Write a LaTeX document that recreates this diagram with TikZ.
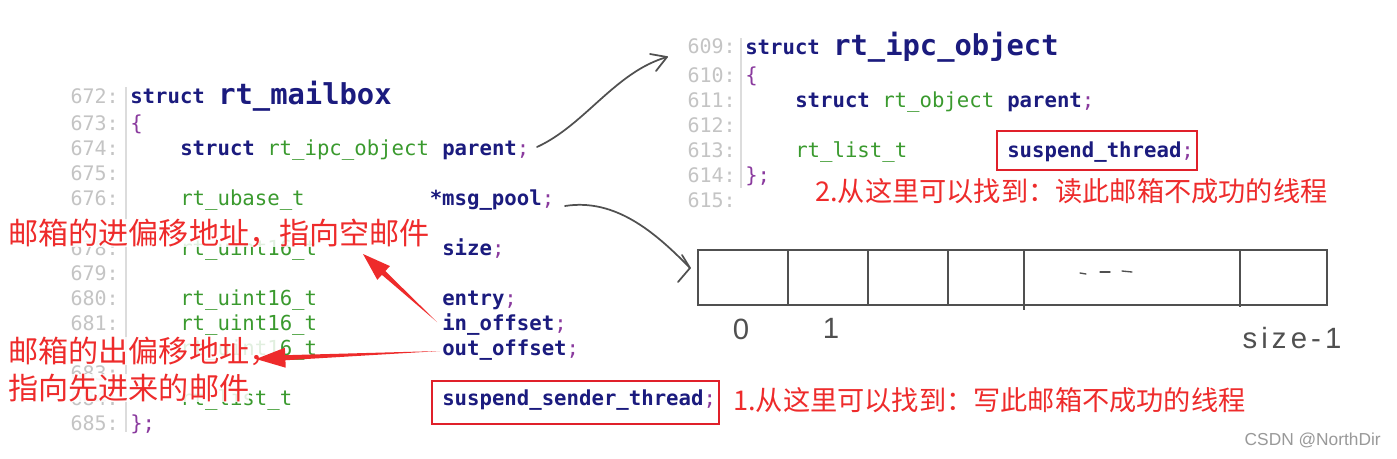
\documentclass[tikz,border=0pt]{standalone}
\usepackage{fontspec}
\setmainfont{Liberation Sans}
\newfontfamily\codefont{DejaVu Sans Mono}
\newfontfamily\cjkfont{Noto Sans CJK SC}
\newfontfamily\handfont[LetterSpace=14]{Liberation Sans}
\usetikzlibrary{calc}
\definecolor{navy}{HTML}{1B1B7E}
\definecolor{typegreen}{HTML}{3A9A2E}
\definecolor{punct}{HTML}{8A3A9E}
\definecolor{lnumgray}{HTML}{C4C4C4}
\definecolor{gutter}{HTML}{DCDCDC}
\definecolor{annred}{HTML}{EE2B2B}
\definecolor{boxred}{HTML}{E0202A}
\definecolor{pen}{HTML}{505050}
\begin{document}
\begin{tikzpicture}[x=0.75pt,y=-0.75pt,
  lnum/.style={font=\codefont\fontsize{15}{18}\selectfont, text=lnumgray, inner sep=0, anchor=base east},
  kw/.style={font=\codefont\bfseries\fontsize{15.5}{18}\selectfont, text=navy, inner sep=0, anchor=base west},
  ty/.style={font=\codefont\fontsize{15.5}{18}\selectfont, text=typegreen, inner sep=0, anchor=base west},
  pu/.style={font=\codefont\fontsize{15.5}{18}\selectfont, text=punct, inner sep=0, anchor=base west},
  title/.style={font=\codefont\bfseries\fontsize{21.6}{24}\selectfont, text=navy, inner sep=0, anchor=base west},
  redbox/.style={draw=boxred, line width=1.5pt},
  ann/.style={font=\cjkfont, text=annred, inner sep=0, anchor=west},
  annbg/.style={ann, fill=white, fill opacity=0.85, text opacity=1},
  redarrow/.style={fill=annred, draw=none},
  penline/.style={draw=pen, line width=1.3pt, line cap=round, line join=round},
  hand/.style={font=\handfont\fontsize{22}{24}\selectfont, text=pen, inner sep=0}]
\useasboundingbox (0,0) rectangle (1397,458);
\fill[white] (0,0) rectangle (1397,458);

% gutters
\draw[gutter, line width=0.8pt] (126,87) -- (126,432);
\draw[gutter, line width=0.8pt] (741,38) -- (741,188);

% left line numbers (677 and 682 are hidden under the annotations)
\foreach \n/\y in {672/103,673/130,674/155,675/180,676/205,678/255,679/280,680/305,681/330,683/380,684/405,685/430}
  \node[lnum] (n\n) at (119,\y) {\n:};
% right line numbers
\foreach \n/\y in {609/53,610/82,611/107,612/132,613/157,614/182,615/207}
  \node[lnum] (n\n) at (736,\y) {\n:};

% left struct
\node[kw] (k672) at (130,103) {struct};
\node[title] (t672) at (218,104) {rt\_mailbox};
\node[pu] (b673) at (130,130) {\{};
\node[kw] (k674) at (180,155) {struct};
\node[ty] (t674) at (267,155) {rt\_ipc\_object};
\node[kw] (f674) at (442,155) {parent\textcolor{punct}{\mdseries;}};
\node[ty] (t676) at (180,205) {rt\_ubase\_t};
\node[kw] (f676) at (429.5,205) {*msg\_pool\textcolor{punct}{\mdseries;}};
\node[ty] (t678) at (180,255) {rt\_uint16\_t};
\node[kw] (f678) at (442,255) {size\textcolor{punct}{\mdseries;}};
\node[ty] (t680) at (180,305) {rt\_uint16\_t};
\node[kw] (f680) at (442,305) {entry\textcolor{punct}{\mdseries;}};
\node[ty] (t681) at (180,330) {rt\_uint16\_t};
\node[kw] (f681) at (442,330) {in\_offset\textcolor{punct}{\mdseries;}};
\node[ty] (t682) at (180,355) {rt\_uint16\_t};
\node[kw] (f682) at (442,355) {out\_offset\textcolor{punct}{\mdseries;}};
\node[ty] (t684) at (180,405) {rt\_list\_t};
\node[kw] (f684) at (442,405) {suspend\_sender\_thread\textcolor{punct}{\mdseries;}};
\node[pu] (b685) at (130,430) {\};};
\draw[redbox] (432,381) rectangle (719,424);

% right struct
\node[kw] (k609) at (745,54) {struct};
\node[title] (t609) at (833,55) {rt\_ipc\_object};
\node[pu] (b610) at (745,82) {\{};
\node[kw] (k611) at (795,107) {struct};
\node[ty] (t611) at (882,107) {rt\_object};
\node[kw] (f611) at (1007,107) {parent\textcolor{punct}{\mdseries;}};
\node[ty] (t613) at (795,157) {rt\_list\_t};
\node[kw] (f613) at (1007,157) {suspend\_thread\textcolor{punct}{\mdseries;}};
\node[pu] (b614) at (745,182) {\};};
\draw[redbox] (997,131) rectangle (1197,170);

% red annotations
\node[ann, font=\cjkfont\fontsize{20.4}{22}\selectfont] (a2) at (815,191) {2.从这里可以找到：读此邮箱不成功的线程};
\node[ann, font=\cjkfont\fontsize{20.4}{22}\selectfont] (a1) at (733,400) {1.从这里可以找到：写此邮箱不成功的线程};
\node[annbg, font=\cjkfont\fontsize{22.6}{24}\selectfont] (ain) at (8,233) {邮箱的进偏移地址，指向空邮件};
\node[annbg, font=\cjkfont\fontsize{22.6}{24}\selectfont] (aout1) at (8,351) {邮箱的出偏移地址，};
\node[annbg, font=\cjkfont\fontsize{22.6}{24}\selectfont] (aout2) at (8,388) {指向先进来的邮件};

% red tapered arrows
\coordinate (r1a) at (437,322);
\coordinate (r1t) at (363,254);
\coordinate (r1h) at ($(r1t)!21pt!(r1a)$);
\fill[redarrow] (r1a) -- ($(r1h)!1.9pt!90:(r1t)$) -- ($(r1h)!7pt!90:(r1t)$) -- (r1t)
  -- ($(r1h)!7pt!-90:(r1t)$) -- ($(r1h)!1.9pt!-90:(r1t)$) -- cycle;
\coordinate (r2a) at (440,351);
\coordinate (r2t) at (256,359);
\coordinate (r2h) at ($(r2t)!22pt!(r2a)$);
\fill[redarrow] (r2a) -- ($(r2h)!1.9pt!90:(r2t)$) -- ($(r2h)!7.5pt!90:(r2t)$) -- (r2t)
  -- ($(r2h)!7.5pt!-90:(r2t)$) -- ($(r2h)!1.9pt!-90:(r2t)$) -- cycle;

% gray hand-drawn arrows
\coordinate (g1s) at (537,147);
\coordinate (g1t) at (667,57);
\draw[penline] (g1s) .. controls (585,125) and (615,72) .. (g1t);
\draw[penline] (650,54) -- (g1t) -- (656,71);
\coordinate (g2s) at (565,206);
\coordinate (g2t) at (690,268);
\draw[penline] (g2s) .. controls (615,198) and (655,232) .. (g2t);
\draw[penline] (682,255) -- (g2t) -- (678,282);

% array
\draw[pen, line width=1.2pt] (698,250) rectangle (1327,305);
\draw[pen, line width=1.2pt] (788,250) -- (788,305);
\draw[pen, line width=1.2pt] (868,250) -- (868,305);
\draw[pen, line width=1.2pt] (948,250) -- (948,305);
\draw[pen, line width=1.2pt] (1024,250) -- (1024,310);
\draw[pen, line width=1.2pt] (1240,250) -- (1240,307);
\draw[pen, line width=1pt, line cap=round] (1080,273) -- (1086,274);
\draw[pen, line width=1pt, line cap=round] (1100,272) -- (1110,272);
\draw[pen, line width=1pt, line cap=round] (1122,271) -- (1132,272);
\node[hand] (l0) at (741,329) {0};
\node[hand] (l1) at (831,328) {1};
\node[hand] (ls) at (1292,338) {size-1};

% watermark
\node[font=\fontsize{13}{15}\selectfont, text=gray!80, inner sep=0, anchor=east] (wm) at (1381,440) {CSDN @NorthDir};
\end{tikzpicture}
\end{document}
